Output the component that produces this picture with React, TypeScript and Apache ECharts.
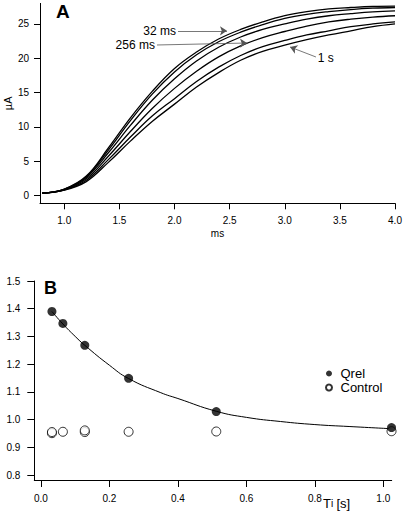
import React, { useEffect, useRef } from "react";
import * as echarts from "echarts";

// Panel A: current traces (µA) vs time (ms)
const timesA = [0.8, 1.0, 1.2, 1.4, 1.6, 1.8, 2.0, 2.2, 2.4, 2.6, 2.8, 3.0, 3.2, 3.4, 3.6, 3.8, 4.0];
const trace32 = [0.3, 0.9, 2.8, 6.9, 11.3, 15.2, 18.5, 20.9, 22.8, 24.2, 25.3, 26.2, 26.8, 27.2, 27.4, 27.55, 27.6];
const trace64 = [0.3, 0.88, 2.7, 6.6, 10.9, 14.8, 18.0, 20.5, 22.4, 23.8, 24.9, 25.8, 26.4, 26.8, 27.1, 27.3, 27.4];
const trace128 = [0.3, 0.85, 2.6, 6.2, 10.2, 13.9, 17.0, 19.6, 21.6, 23.1, 24.2, 25.0, 25.7, 26.2, 26.5, 26.75, 26.9];
const trace256 = [0.3, 0.8, 2.4, 5.7, 9.3, 12.7, 15.6, 18.1, 20.2, 21.8, 23.0, 23.9, 24.7, 25.3, 25.7, 26.0, 26.2];
const trace512 = [0.3, 0.78, 2.2, 5.2, 8.5, 11.6, 14.1, 16.6, 18.7, 20.4, 21.7, 22.6, 23.4, 24.0, 24.6, 25.0, 25.3];
const trace1024 = [0.3, 0.75, 2.0, 4.8, 7.9, 10.8, 13.3, 15.8, 17.9, 19.7, 21.0, 21.9, 22.7, 23.4, 24.0, 24.6, 25.0];
const tracesA = [trace32, trace64, trace128, trace256, trace512, trace1024];
const ticksAX = [1.0, 1.5, 2.0, 2.5, 3.0, 3.5, 4.0];
const ticksAY = [0, 5, 10, 15, 20, 25];

// Annotations: label text, arrow start and arrow tip in [ms, µA]
const annLabels = ["32 ms", "256 ms", "1 s"];
const annFrom = [[2.032, 24.0], [1.841, 21.93], [3.283, 20.18]];
const annTo = [[2.476, 24.0], [2.658, 22.22], [3.048, 21.64]];

// Panel B
const tiQrel = [0.032, 0.064, 0.128, 0.256, 0.512, 1.024];
const qrel = [1.39, 1.347, 1.268, 1.149, 1.029, 0.971];
const tiControl = [0.032, 0.032, 0.064, 0.128, 0.128, 0.256, 0.512, 1.024];
const control = [0.951, 0.955, 0.956, 0.955, 0.961, 0.956, 0.957, 0.958];
const tiFit = [0.032, 0.064, 0.1, 0.128, 0.2, 0.256, 0.35, 0.4, 0.512, 0.6, 0.7, 0.8, 0.9, 1.024];
const fit = [1.39, 1.345, 1.3, 1.268, 1.196, 1.148, 1.097, 1.076, 1.03, 1.008, 0.993, 0.982, 0.975, 0.967];
const ticksBX = [0, 0.2, 0.4, 0.6, 0.8, 1.0];
const ticksBY = [0.8, 0.9, 1.0, 1.1, 1.2, 1.3, 1.4, 1.5];

const FONT = "Liberation Sans, Arial, Helvetica, sans-serif";

export default function App() {
  const ref = useRef<HTMLDivElement>(null);
  useEffect(() => {
    if (!ref.current) return;
    const chart = echarts.init(ref.current, undefined, { renderer: "svg" });
    const axisCommon = {
      axisLine: { show: true, onZero: false, lineStyle: { color: "#000", width: 1 } },
      splitLine: { show: false },
      nameMoveOverlap: false,
    };
    const lineSeries = tracesA.map((tr, i) => ({
      type: "line",
      xAxisIndex: 0,
      yAxisIndex: 0,
      data: timesA.map((t, j) => [t, tr[j]]),
      showSymbol: false,
      smooth: 0.4,
      silent: true,
      lineStyle: { color: "#000", width: 1.3 },
      z: 3,
      ...(i === 0
        ? {
            markLine: {
              silent: true,
              symbol: ["none", "arrow"],
              symbolSize: 7,
              lineStyle: { color: "#555", width: 0.8, type: "solid" },
              label: {
                show: true,
                position: "start",
                distance: 2,
                color: "#000",
                fontSize: 12,
                fontFamily: FONT,
              },
              data: annLabels.map((lab, k) => [
                { coord: annFrom[k], label: { formatter: lab } },
                { coord: annTo[k] },
              ]),
            },
          }
        : {}),
    }));

    chart.setOption({
      animation: false,
      backgroundColor: "#fff",
      textStyle: { fontFamily: FONT },
      grid: [
        { left: 40, right: 9, top: 3.4, bottom: 310.7, containLabel: false, outerBoundsMode: "none" },
        { left: 34.3, right: 12.3, top: 281, bottom: 34, containLabel: false, outerBoundsMode: "none" },
      ],
      legend: {
        data: ["Qrel", "Control"],
        orient: "vertical",
        left: 320,
        top: 362,
        itemWidth: 13,
        itemHeight: 6,
        itemGap: 1,
        icon: "circle",
        textStyle: { fontSize: 13, color: "#000", fontFamily: FONT, lineHeight: 13 },
      },
      xAxis: [
        {
          gridIndex: 0,
          type: "value",
          min: 0.78,
          max: 4.0,
          name: "ms",
          nameLocation: "middle",
          nameGap: 25,
          nameTextStyle: { fontSize: 10, color: "#000", verticalAlign: "top" },
          ...axisCommon,
          axisTick: { show: true, length: 6, customValues: ticksAX, lineStyle: { color: "#000" } },
          axisLabel: {
            customValues: ticksAX,
            margin: 12,
            fontSize: 10,
            color: "#000",
            formatter: (v: number) => v.toFixed(1),
          },
        },
        {
          gridIndex: 1,
          type: "value",
          min: -0.0195,
          max: 1.0245,
          ...axisCommon,
          axisTick: { show: true, length: 7, customValues: ticksBX, lineStyle: { color: "#000" } },
          axisLabel: {
            customValues: ticksBX,
            margin: 13,
            fontSize: 10,
            color: "#000",
            formatter: (v: number) => v.toFixed(1),
          },
        },
      ],
      yAxis: [
        {
          gridIndex: 0,
          type: "value",
          min: -1.17,
          max: 28,
          name: "µA",
          nameLocation: "middle",
          nameGap: 27,
          nameTextStyle: { fontSize: 11, color: "#000" },
          ...axisCommon,
          axisTick: { show: true, length: 6, customValues: ticksAY, lineStyle: { color: "#000" } },
          axisLabel: {
            customValues: ticksAY,
            margin: 11,
            fontSize: 10,
            color: "#000",
            formatter: (v: number) => String(Math.round(v)),
          },
        },
        {
          gridIndex: 1,
          type: "value",
          min: 0.782,
          max: 1.5,
          ...axisCommon,
          axisTick: { show: true, length: 7, customValues: ticksBY, lineStyle: { color: "#000" } },
          axisLabel: {
            customValues: ticksBY,
            margin: 14,
            fontSize: 10,
            color: "#000",
            formatter: (v: number) => v.toFixed(1),
          },
        },
      ],
      graphic: [
        {
          type: "text",
          left: 56,
          top: 2,
          style: { text: "A", font: `bold 19px ${FONT}`, fill: "#000" },
        },
        {
          type: "text",
          left: 44,
          top: 279,
          style: { text: "B", font: `bold 18px ${FONT}`, fill: "#000" },
        },
        {
          type: "text",
          left: 323,
          top: 497,
          style: {
            text: "{t|T}{i|i} {t|[s]}",
            fill: "#000",
            rich: {
              t: { fontSize: 13, fontFamily: FONT, fill: "#000" },
              i: { fontSize: 10, fontFamily: FONT, fill: "#000" },
            },
          },
        },
      ],
      series: [
        ...lineSeries,
        {
          type: "line",
          name: "fit",
          xAxisIndex: 1,
          yAxisIndex: 1,
          data: tiFit.map((t, i) => [t, fit[i]]),
          showSymbol: false,
          smooth: true,
          silent: true,
          lineStyle: { color: "#000", width: 1 },
          z: 2,
        },
        {
          type: "scatter",
          name: "Control",
          xAxisIndex: 1,
          yAxisIndex: 1,
          data: tiControl.map((t, i) => [t, control[i]]),
          symbol: "circle",
          symbolSize: 9,
          itemStyle: { color: "#fff", borderColor: "#000", borderWidth: 1 },
          z: 3,
        },
        {
          type: "scatter",
          name: "Qrel",
          xAxisIndex: 1,
          yAxisIndex: 1,
          data: tiQrel.map((t, i) => [t, qrel[i]]),
          symbol: "circle",
          symbolSize: 9,
          itemStyle: { color: "#000" },
          z: 4,
        },
      ],
    });
    return () => chart.dispose();
  }, []);
  return (
    <div
      ref={ref}
      style={{ position: "absolute", left: 0, top: 0, width: 404, height: 514, background: "#fff" }}
    />
  );
}
